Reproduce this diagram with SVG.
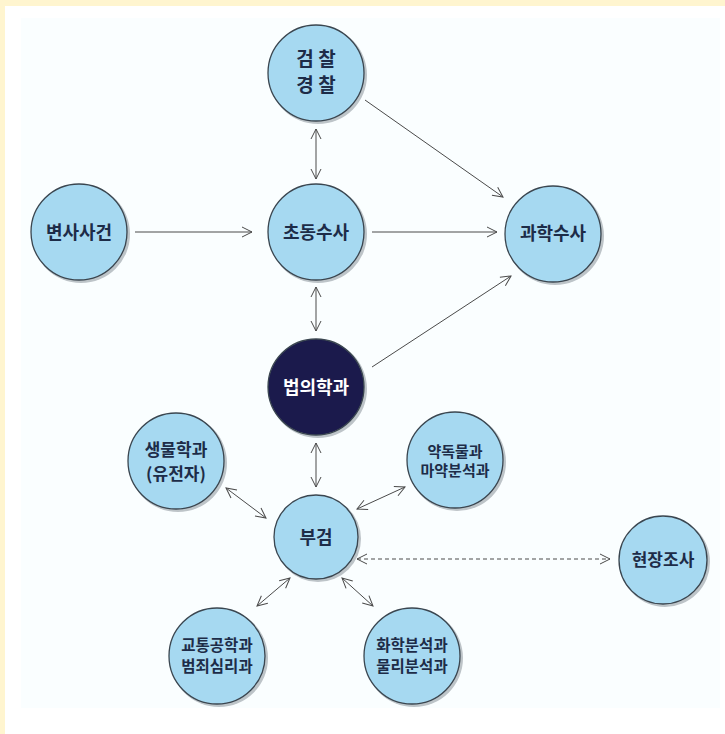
<svg xmlns="http://www.w3.org/2000/svg" width="725" height="734" viewBox="0 0 725 734">
<defs>
<style>
.n{fill:#a6d9f1;stroke:#3a4650;stroke-width:1.3}
.d{fill:#1b1a4c;stroke:#3a4650;stroke-width:1.3}
.sh{fill:#8a949a;opacity:0.55}
text{font-family:"Noto Sans CJK KR","Noto Sans",sans-serif;font-weight:700;text-anchor:middle;fill:#1d2c48}
.w{fill:#ffffff}
.c line{stroke:#4a4a4a;stroke-width:1}
.dash{stroke-dasharray:4 3}
</style>
<marker id="a" viewBox="0 0 12 12" refX="11" refY="6" markerWidth="12" markerHeight="12" markerUnits="userSpaceOnUse" orient="auto-start-reverse">
<path d="M1,1 L11,6 L1,11" fill="none" stroke="#4a4a4a" stroke-width="1"/>
</marker>
</defs>
<rect width="725" height="734" fill="#ffffff"/>
<rect x="0" y="0" width="725" height="6" fill="#fff5cf"/>
<rect x="0" y="0" width="5" height="734" fill="#fff5cf"/>
<rect x="21" y="18" width="699" height="690" fill="#fafeff"/>

<g class="c">
<line x1="316" y1="129" x2="316" y2="179" marker-start="url(#a)" marker-end="url(#a)"/>
<line x1="365" y1="100" x2="503" y2="197" marker-end="url(#a)"/>
<line x1="135" y1="232" x2="252" y2="232" marker-end="url(#a)"/>
<line x1="372" y1="232" x2="497" y2="232" marker-end="url(#a)"/>
<line x1="316" y1="287" x2="316" y2="331" marker-start="url(#a)" marker-end="url(#a)"/>
<line x1="372" y1="367" x2="511" y2="276" marker-end="url(#a)"/>
<line x1="316" y1="443" x2="316" y2="487" marker-start="url(#a)" marker-end="url(#a)"/>
<line x1="226" y1="488" x2="266" y2="518" marker-start="url(#a)" marker-end="url(#a)"/>
<line x1="357" y1="509" x2="405" y2="487" marker-start="url(#a)" marker-end="url(#a)"/>
<line class="dash" x1="357" y1="559" x2="610" y2="559" marker-start="url(#a)" marker-end="url(#a)"/>
<line x1="290" y1="578" x2="257" y2="606" marker-start="url(#a)" marker-end="url(#a)"/>
<line x1="342" y1="578" x2="373" y2="606" marker-start="url(#a)" marker-end="url(#a)"/>
</g>

<g id="n-police">
<circle class="sh" cx="318" cy="75" r="49"/>
<circle class="n" cx="316" cy="73" r="48"/>
<text x="316" y="66" font-size="19">검 찰</text>
<text x="316" y="92" font-size="19">경 찰</text>
</g>
<g id="n-death">
<circle class="sh" cx="81" cy="234" r="49"/>
<circle class="n" cx="79" cy="232" r="48"/>
<text x="79" y="239" font-size="18">변사사건</text>
</g>
<g id="n-initial">
<circle class="sh" cx="318" cy="234" r="49"/>
<circle class="n" cx="316" cy="232" r="48"/>
<text x="316" y="239" font-size="18">초동수사</text>
</g>
<g id="n-science">
<circle class="sh" cx="555" cy="236" r="49"/>
<circle class="n" cx="553" cy="234" r="48"/>
<text x="553" y="240" font-size="18">과학수사</text>
</g>
<g id="n-forensic">
<circle class="sh" cx="318" cy="389" r="49"/>
<circle class="d" cx="316" cy="387" r="48"/>
<text class="w" x="316" y="394" font-size="18">법의학과</text>
</g>
<g id="n-bio">
<circle class="sh" cx="178" cy="463" r="49"/>
<circle class="n" cx="176" cy="461" r="48"/>
<text x="176" y="456" font-size="17">생물학과</text>
<text x="176" y="480" font-size="17">(유전자)</text>
</g>
<g id="n-drug">
<circle class="sh" cx="457" cy="462" r="49"/>
<circle class="n" cx="455" cy="460" r="48"/>
<text x="455" y="457" font-size="15">약독물과</text>
<text x="455" y="476" font-size="15">마약분석과</text>
</g>
<g id="n-autopsy">
<circle class="sh" cx="318" cy="539" r="43"/>
<circle class="n" cx="316" cy="537" r="42"/>
<text x="316" y="544" font-size="18">부검</text>
</g>
<g id="n-scene">
<circle class="sh" cx="665" cy="562" r="45"/>
<circle class="n" cx="663" cy="560" r="44"/>
<text x="663" y="566" font-size="17">현장조사</text>
</g>
<g id="n-traffic">
<circle class="sh" cx="219" cy="658" r="49"/>
<circle class="n" cx="217" cy="656" r="48"/>
<text x="217" y="651" font-size="15.5">교통공학과</text>
<text x="217" y="672" font-size="15.5">범죄심리과</text>
</g>
<g id="n-chem">
<circle class="sh" cx="414" cy="658" r="49"/>
<circle class="n" cx="412" cy="656" r="48"/>
<text x="412" y="651" font-size="15.5">화학분석과</text>
<text x="412" y="672" font-size="15.5">물리분석과</text>
</g>
</svg>
